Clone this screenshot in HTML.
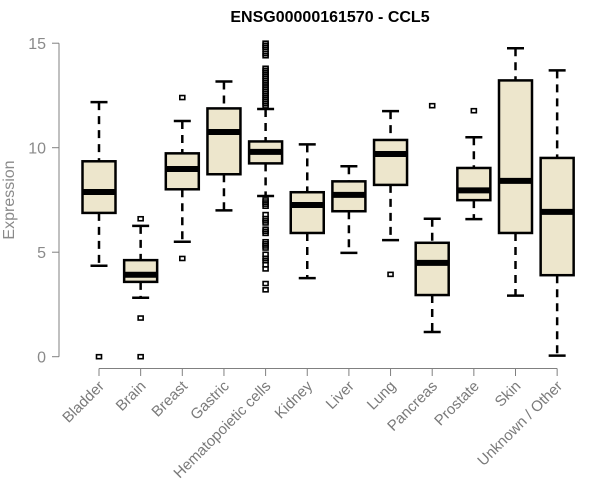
<!DOCTYPE html>
<html><head><meta charset="utf-8"><style>
body{margin:0;background:#fff}
svg{display:block;font-family:"Liberation Sans",Arial,sans-serif}
</style></head><body>
<svg id="chart" width="600" height="500" viewBox="0 0 600 500" xmlns="http://www.w3.org/2000/svg">
<text x="330" y="22" text-anchor="middle" font-size="16" font-weight="bold" fill="#000">ENSG00000161570 - CCL5</text>
<text transform="translate(14,200) rotate(-90)" text-anchor="middle" font-size="16" fill="#8a8a8a">Expression</text>
<g id="axes"></g>
<g id="boxes"></g>
</svg>
<script>
const categories=["Bladder","Brain","Breast","Gastric","Hematopoietic cells","Kidney","Liver","Lung","Pancreas","Prostate","Skin","Unknown / Other"];
const whiskerLow=[4.35,2.82,5.5,7.0,7.69,3.76,4.97,5.58,1.18,6.58,2.92,0.05];
const q1=[6.88,3.58,8.01,8.73,9.25,5.92,6.96,8.22,2.95,7.49,5.92,3.9];
const medians=[7.88,3.92,8.98,10.75,9.8,7.26,7.74,9.7,4.49,7.96,8.41,6.93];
const q3=[9.35,4.62,9.73,11.88,10.3,7.87,8.39,10.37,5.45,9.03,13.22,9.51];
const whiskerHigh=[12.18,6.26,11.28,13.17,11.85,10.16,9.11,11.75,6.6,10.5,14.76,13.7];
const outliers=[[0],[6.6,1.85,0],[12.4,4.7],[],
[12.0,12.1,12.2,12.3,12.4,12.5,12.6,12.7,12.8,12.9,13.0,13.1,13.2,13.3,13.4,13.5,13.6,13.7,13.8,14.4,14.5,14.7,14.8,14.9,15.0,
7.5,7.4,7.3,7.2,6.8,6.6,6.5,6.4,6.1,6.0,5.9,5.5,5.4,5.3,5.2,4.9,4.7,4.6,4.4,4.2,3.5,3.2],
[],[],[3.94],[12.01],[11.77],[],[]];
const yTicks=[0,5,10,15];
const ns="http://www.w3.org/2000/svg";
const y=v=>356.7-v*20.9;
const x=i=>99+i*41.65;
function mk(tag,attrs,parent){const e=document.createElementNS(ns,tag);for(const k in attrs)e.setAttribute(k,attrs[k]);parent.appendChild(e);return e;}
const axes=document.getElementById('axes');
const boxes=document.getElementById('boxes');
const grey="#808080";
const ya=mk('line',{x1:59,x2:59,y1:y(15),y2:y(0),stroke:grey},axes);


yTicks.forEach(t=>{
 const tk=mk('line',{x1:52,x2:59,y1:y(t),y2:y(t),stroke:grey},axes);
 
 
 const tl=mk('text',{x:46,y:y(t)+6,'text-anchor':'end','font-size':16,fill:"#8a8a8a"},axes);
 
 
 tl.textContent=t;
});
const xa=mk('line',{x1:x(0),x2:x(categories.length-1),y1:368.5,y2:368.5,stroke:grey},axes);


categories.forEach((c,i)=>{
 const cx=x(i);
 const tk=mk('line',{x1:cx,x2:cx,y1:368.5,y2:376,stroke:grey},axes);
 
 
 const tl=mk('text',{transform:`translate(${cx+6},${387}) rotate(-45)`,'text-anchor':'end','font-size':15,fill:"#7a7a7a"},axes);
 
 
 tl.textContent=c;
 const g=mk('g',{},boxes);
 
 
 mk('line',{x1:cx,x2:cx,y1:y(whiskerHigh[i]),y2:y(q3[i]),stroke:'#000','stroke-width':2.5,'stroke-dasharray':'8,6'},g);
 mk('line',{x1:cx,x2:cx,y1:y(q1[i]),y2:y(whiskerLow[i]),stroke:'#000','stroke-width':2.5,'stroke-dasharray':'8,6'},g);
 mk('line',{x1:cx-8.5,x2:cx+8.5,y1:y(whiskerHigh[i]),y2:y(whiskerHigh[i]),stroke:'#000','stroke-width':2.5},g);
 mk('line',{x1:cx-8.5,x2:cx+8.5,y1:y(whiskerLow[i]),y2:y(whiskerLow[i]),stroke:'#000','stroke-width':2.5},g);
 mk('rect',{x:cx-16.5,y:y(q3[i]),width:33,height:y(q1[i])-y(q3[i]),fill:'#ede6cc',stroke:'#000','stroke-width':2.5},g);
 mk('line',{x1:cx-16.5,x2:cx+16.5,y1:y(medians[i]),y2:y(medians[i]),stroke:'#000','stroke-width':6},g);
 outliers[i].forEach(v=>{
  const o=mk('rect',{x:cx-2.5,y:y(v)-2,width:5,height:4,fill:'none',stroke:'#000','stroke-width':1.6},g);
  
  
 });
});
</script>
</body></html>
